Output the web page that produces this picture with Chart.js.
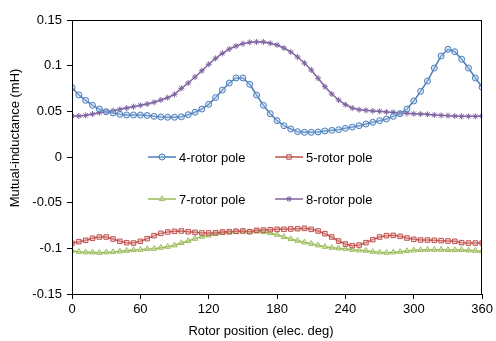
<!DOCTYPE html>
<html>
<head>
<meta charset="utf-8">
<script src="https://cdn.jsdelivr.net/npm/chart.js@4"></script>
<style>
  html, body { margin: 0; padding: 0; background: #fff; }
  #wrap { width: 496px; height: 341px; }
</style>
</head>
<body>
<div id="wrap"><canvas id="c" width="496" height="341"></canvas></div>
<script>
// rotor position, 0..360 elec. deg every 6 deg
const ANGLES = [0,6,12,18,24,30,36,42,48,54,60,66,72,78,84,90,96,102,108,114,120,126,132,138,144,150,156,162,168,174,180,
  186,192,198,204,210,216,222,228,234,240,246,252,258,264,270,276,282,288,294,300,306,312,318,324,330,336,342,348,354,360];

const POLE4 = [0.076,0.068,0.062,0.0566,0.0525,0.0496,0.0482,0.0467,0.046,0.046,0.0459,0.0455,0.0445,0.0438,0.0435,0.0435,
  0.044,0.0463,0.049,0.0525,0.0577,0.065,0.0733,0.081,0.0865,0.0865,0.0796,0.0679,0.0566,0.0474,0.0398,
  0.0343,0.0307,0.0277,0.027,0.027,0.0274,0.0285,0.0292,0.0299,0.0314,0.0328,0.0343,0.0361,0.038,0.0398,
  0.0416,0.0445,0.0474,0.0525,0.0613,0.0719,0.0832,0.0974,0.1106,0.1179,0.1153,0.107,0.0974,0.0865,0.0763];

const POLE5 = [-0.0945,-0.0927,-0.0912,-0.089,-0.0876,-0.0876,-0.0898,-0.0923,-0.0938,-0.0942,-0.0923,-0.0894,-0.0861,-0.0836,-0.0821,-0.0814,
  -0.081,-0.0818,-0.0825,-0.0832,-0.0832,-0.0829,-0.0821,-0.0818,-0.0814,-0.081,-0.0818,-0.0803,-0.08,-0.0796,-0.0792,
  -0.0792,-0.0788,-0.0785,-0.0781,-0.0792,-0.081,-0.084,-0.0876,-0.092,-0.0953,-0.0971,-0.0964,-0.0938,-0.0905,-0.0876,
  -0.0861,-0.0858,-0.0869,-0.0887,-0.0901,-0.0909,-0.0909,-0.0912,-0.0916,-0.092,-0.0923,-0.0938,-0.0942,-0.0942,-0.0942];

const POLE7 = [-0.1026,-0.1037,-0.1044,-0.1044,-0.1048,-0.1044,-0.104,-0.1033,-0.1026,-0.1018,-0.1015,-0.1007,-0.1004,-0.0993,-0.0982,-0.0967,
  -0.0942,-0.092,-0.0894,-0.0872,-0.0858,-0.0843,-0.0832,-0.0825,-0.0818,-0.0814,-0.0821,-0.0814,-0.0821,-0.0832,-0.085,
  -0.0876,-0.0898,-0.0916,-0.0934,-0.0949,-0.0967,-0.0982,-0.0993,-0.1,-0.1004,-0.1015,-0.1022,-0.1026,-0.1037,-0.1044,
  -0.1048,-0.1044,-0.1037,-0.1029,-0.1022,-0.1018,-0.1015,-0.1015,-0.1015,-0.1018,-0.1018,-0.1018,-0.1022,-0.1026,-0.1033];

const POLE8 = [0.0449,0.045,0.0456,0.047,0.0485,0.0496,0.0507,0.0522,0.0536,0.0551,0.0566,0.058,0.0599,0.0624,0.065,0.0686,
  0.0752,0.081,0.0876,0.0945,0.1015,0.108,0.1135,0.1182,0.1215,0.1241,0.1256,0.126,0.126,0.1245,0.1226,
  0.1193,0.115,0.1095,0.1029,0.0953,0.0862,0.077,0.069,0.0624,0.0573,0.0536,0.0518,0.0511,0.0504,0.05,
  0.0493,0.049,0.0482,0.0478,0.0474,0.047,0.0467,0.046,0.0456,0.0453,0.0449,0.0445,0.0445,0.0445,0.0449];

const SERIES_LABELS = ['4-rotor pole', '5-rotor pole', '7-rotor pole', '8-rotor pole'];
const X_TICKS = [0, 60, 120, 180, 240, 300, 360];
const Y_TICKS = [-0.15, -0.1, -0.05, 0, 0.05, 0.1, 0.15];

const FONT = '"Liberation Sans", Arial, sans-serif';

function series(label, values, color, fill, style, radius) {
  return {
    label,
    data: ANGLES.map((a, i) => ({ x: a, y: values[i] })),
    borderColor: color,
    backgroundColor: fill,
    borderWidth: 1.5,
    pointStyle: style,
    pointRadius: radius,
    pointBorderWidth: 1,
    pointBorderColor: color,
    pointBackgroundColor: fill,
    tension: 0,
  };
}

const datasets = [
  series(SERIES_LABELS[0], POLE4, '#4a7ebb', 'rgba(180,202,230,0.4)', 'circle', 3),
  series(SERIES_LABELS[1], POLE5, '#c0504d', 'rgba(235,180,178,0.4)', 'rect', 3.2),
  series(SERIES_LABELS[2], POLE7, '#9bbb59', 'rgba(210,228,180,0.4)', 'triangle', 3.2),
  series(SERIES_LABELS[3], POLE8, '#7f63a1', 'rgba(127,99,161,0.6)', 'star', 3),
];

// legend inside the plot (2 x 2), frame, axis titles
const extras = {
  id: 'extras',
  afterDraw(chart) {
    const { ctx, chartArea: ca } = chart;
    ctx.save();
    ctx.strokeStyle = '#000';
    ctx.lineWidth = 1;
    ctx.strokeRect(Math.round(ca.left) + 0.5, Math.round(ca.top) + 0.5,
                   Math.round(ca.right - ca.left) - 1, Math.round(ca.bottom - ca.top));

    const cols = [148, 275], rows = [157, 199];
    ctx.font = '13px ' + FONT;
    ctx.textBaseline = 'middle';
    chart.data.datasets.forEach((ds, i) => {
      const x0 = cols[i % 2], y = rows[Math.floor(i / 2)];
      ctx.strokeStyle = ds.borderColor;
      ctx.lineWidth = 1.5;
      ctx.beginPath(); ctx.moveTo(x0, y); ctx.lineTo(x0 + 28, y); ctx.stroke();
      ctx.fillStyle = ds.pointBackgroundColor;
      ctx.lineWidth = 1;
      Chart.helpers.drawPoint(ctx, { pointStyle: ds.pointStyle, radius: ds.pointRadius, rotation: 0, borderWidth: 1 }, x0 + 14, y);
      ctx.fillStyle = '#000';
      ctx.textAlign = 'left';
      ctx.fillText(ds.label, x0 + 31, y + 1);
    });

    ctx.textAlign = 'center';
    ctx.fillStyle = '#000';
    ctx.fillText('Rotor position (elec. deg)', 261, 331);

    ctx.translate(15, 138);
    ctx.rotate(-Math.PI / 2);
    ctx.fillText('Mutual-inductance (mH)', 0, 0);
    ctx.restore();
  }
};

new Chart(document.getElementById('c'), {
  type: 'line',
  data: { datasets },
  plugins: [extras],
  options: {
    responsive: false,
    animation: false,
    layout: { padding: { top: 20, right: 12, left: 0, bottom: 0 } },
    plugins: { legend: { display: false }, tooltip: { enabled: false } },
    scales: {
      x: {
        type: 'linear', min: 0, max: 360,
        afterBuildTicks: s => { s.ticks = X_TICKS.map(v => ({ value: v })); },
        afterFit: s => { s.height = 47; },
        grid: { display: true, drawOnChartArea: false, tickLength: 5, color: '#000' },
        border: { color: '#000', width: 1 },
        ticks: { color: '#000', font: { family: FONT, size: 13 }, padding: 3, maxRotation: 0 },
      },
      y: {
        min: -0.15, max: 0.15,
        afterBuildTicks: s => { s.ticks = Y_TICKS.map(v => ({ value: v })); },
        afterFit: s => { s.width = 72; },
        grid: { display: true, drawOnChartArea: false, tickLength: 5, color: '#000' },
        border: { color: '#000', width: 1 },
        ticks: { color: '#000', font: { family: FONT, size: 13 }, padding: 5,
                 callback: v => String(+v.toFixed(2)) },
      },
    },
  },
});
</script>
</body>
</html>
